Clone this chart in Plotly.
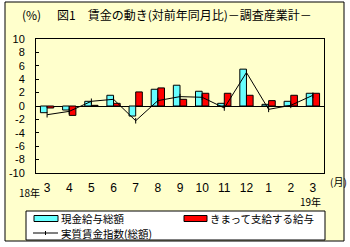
import plotly.graph_objects as go

months = ["3", "4", "5", "6", "7", "8", "9", "10", "11", "12", "1", "2", "3"]
cash_total = [-1.0, -0.6, 0.7, 1.6, -1.5, 2.5, 3.1, 2.2, 0.4, 5.5, 0.25, 0.7, 1.9]
scheduled = [-0.3, -1.4, 0.1, 0.4, 2.1, 2.7, 1.0, 1.9, 1.9, 1.6, 0.8, 1.6, 1.9]
real_wage = [-1.3, -0.8, 0.7, 1.0, -2.2, 0.8, 1.4, 1.3, -0.3, 5.0, -0.5, 0.1, 1.6]
y_ticks = [-10, -8, -6, -4, -2, 0, 2, 4, 6, 8, 10]
series_names = ["現金給与総額", "きまって支給する給与", "実質賃金指数(総額)"]
CYAN, RED = "#66FFFF", "#FF0000"

FONT = "Noto Sans CJK JP"
NUMFONT = "Liberation Sans"
W, H = 350, 247
L, T, R, B = 36, 39, 324, 173
PW, PH = R - L, B - T
x = list(range(len(months)))


def px(v):
    return (v - L) / PW


def py(v):
    return (B - v) / PH


fig = go.Figure()
fig.add_trace(go.Bar(x=x, y=cash_total, name=series_names[0],
                     marker=dict(color=CYAN, line=dict(color="black", width=1))))
fig.add_trace(go.Bar(x=x, y=scheduled, name=series_names[1],
                     marker=dict(color=RED, line=dict(color="black", width=1))))
fig.add_trace(go.Scatter(x=x, y=real_wage, name=series_names[2], mode="lines+markers",
                         line=dict(color="black", width=1),
                         marker=dict(symbol="line-ns", size=4, line=dict(color="black", width=1))))

ROW1, ROW2 = 218.5, 233
shapes = [
    # chart area
    dict(type="rect", xref="paper", yref="paper", x0=px(5), x1=px(344), y0=py(241), y1=py(2),
         fillcolor="#FFFFCC", line=dict(color="black", width=1), layer="below"),
    # legend box
    dict(type="rect", xref="paper", yref="paper", x0=px(26), x1=px(325), y0=py(240), y1=py(211),
         fillcolor="white", line=dict(color="black", width=1)),
    dict(type="rect", xref="paper", yref="paper", x0=px(34), x1=px(58),
         y0=py(ROW1 + 3), y1=py(ROW1 - 3), fillcolor=CYAN, line=dict(color="black", width=1)),
    dict(type="rect", xref="paper", yref="paper", x0=px(184), x1=px(207),
         y0=py(ROW1 + 3), y1=py(ROW1 - 3), fillcolor=RED, line=dict(color="black", width=1)),
    dict(type="line", xref="paper", yref="paper", x0=px(33), x1=px(58), y0=py(ROW2), y1=py(ROW2),
         line=dict(color="black", width=1)),
    dict(type="line", xref="paper", yref="paper", x0=px(45.5), x1=px(45.5),
         y0=py(ROW2 - 2), y1=py(ROW2 + 2), line=dict(color="black", width=1)),
]

annotations = [
    dict(text="(%)", x=px(20), y=py(15), xanchor="left", font=dict(size=12)),
    dict(text="図1　賃金の動き(対前年同月比)－調査産業計－", x=px(55), y=py(15),
         xanchor="left", font=dict(size=12)),
    dict(text="18年", x=px(17), y=py(192), xanchor="left", font=dict(size=10)),
    dict(text="19年", x=px(298), y=py(201), xanchor="left", font=dict(size=10)),
    dict(text="(月)", x=px(328), y=py(181), xanchor="left", font=dict(size=10)),
    dict(text=series_names[0], x=px(59), y=py(ROW1), xanchor="left", font=dict(size=10.5)),
    dict(text=series_names[1], x=px(208), y=py(ROW1), xanchor="left", font=dict(size=10.5)),
    dict(text=series_names[2], x=px(59), y=py(ROW2), xanchor="left", font=dict(size=10.5)),
]
for a in annotations:
    a.update(xref="paper", yref="paper", yanchor="middle", showarrow=False)

fig.update_layout(
    width=W, height=H,
    margin=dict(l=L, r=W - R, t=T, b=H - B, autoexpand=False),
    paper_bgcolor="white", plot_bgcolor="white",
    barmode="group", bargap=0.4, bargroupgap=0,
    font=dict(family=FONT, size=11, color="black"),
    showlegend=False,
    shapes=shapes,
    annotations=annotations,
)
fig.update_xaxes(range=[-0.5, len(months) - 0.5], tickvals=x, ticktext=months,
                 showline=True, linecolor="black", linewidth=1, mirror=True,
                 showgrid=False, zeroline=False, ticks="",
                 tickfont=dict(family=NUMFONT, size=12), ticklabelstandoff=4)
fig.update_yaxes(range=[-10, 10], tickvals=y_ticks, ticktext=[str(v) for v in y_ticks],
                 showline=True, linecolor="black", linewidth=1, mirror=True,
                 showgrid=False, zeroline=True, zerolinecolor="black", zerolinewidth=1,
                 ticks="inside", ticklen=3, tickcolor="black",
                 tickfont=dict(family=NUMFONT, size=11), ticklabelstandoff=8)

fig.write_html("out.html")
